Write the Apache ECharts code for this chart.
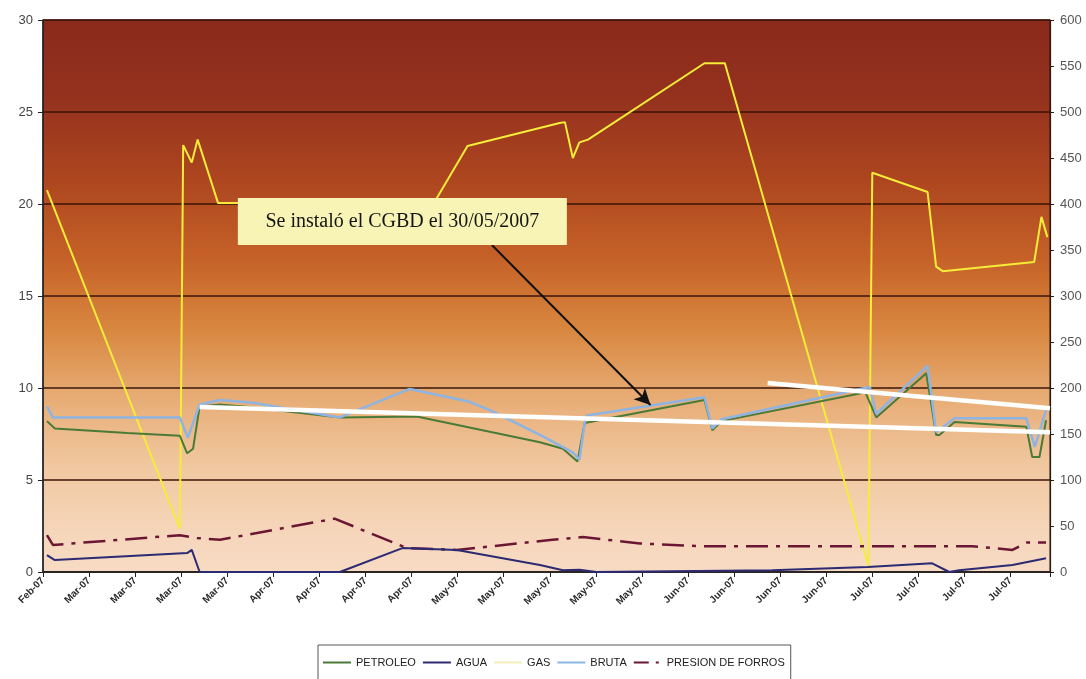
<!DOCTYPE html>
<html>
<head>
<meta charset="utf-8">
<title>Producción del pozo</title>
<script src="https://cdn.jsdelivr.net/npm/echarts@6/dist/echarts.min.js"></script>
<style>
  html, body { margin: 0; padding: 0; background: #ffffff; }
  #chart { width: 1086px; height: 679px; }
</style>
</head>
<body>
<div id="chart"></div>
<script>
// x values are days counted from 28-Feb-2007; one tick per week
const tickLabels = ['Feb-07', 'Mar-07', 'Mar-07', 'Mar-07', 'Mar-07', 'Apr-07', 'Apr-07', 'Apr-07', 'Apr-07',
  'May-07', 'May-07', 'May-07', 'May-07', 'May-07', 'Jun-07', 'Jun-07', 'Jun-07', 'Jun-07',
  'Jul-07', 'Jul-07', 'Jul-07', 'Jul-07'];
const dayMax = 153;   // 31-Jul-2007

// left axis (0-30)
const petroleo = [[0.6, 8.2], [1.8, 7.8], [12.8, 7.55], [20.8, 7.4], [21.9, 6.45], [22.8, 6.7], [23.8, 9.0],
  [26.9, 9.1], [31.6, 8.95], [45.1, 8.4], [56.8, 8.45], [75.5, 7.05], [79.0, 6.7], [81.2, 6.0], [82.3, 8.1],
  [100.5, 9.35], [101.7, 7.7], [103.1, 8.2], [124.1, 9.7], [124.9, 9.8], [126.6, 8.4], [134.2, 10.8],
  [135.7, 7.45], [136.2, 7.45], [138.5, 8.15], [149.4, 7.9], [150.3, 6.25], [151.4, 6.25], [152.4, 8.25]];

const bruta = [[0.6, 9.0], [1.5, 8.4], [20.8, 8.4], [22.0, 7.3], [23.8, 9.1], [26.9, 9.35], [31.9, 9.2],
  [45.1, 8.4], [55.7, 9.95], [64.8, 9.25], [67.9, 8.8], [75.5, 7.45], [80.5, 6.5], [81.5, 6.1], [82.3, 8.1],
  [82.6, 8.5], [100.5, 9.5], [101.7, 7.8], [103.1, 8.3], [125.6, 10.05], [126.6, 8.6], [134.4, 11.2],
  [135.7, 7.6], [138.5, 8.35], [149.4, 8.35], [150.7, 6.8], [152.4, 8.8]];

const agua = [[0.6, 0.92], [1.8, 0.65], [21.9, 1.03], [22.6, 1.2], [23.8, 0], [45.1, 0], [54.6, 1.3],
  [62.9, 1.2], [75.5, 0.38], [79.0, 0.1], [81.5, 0.12], [84.1, 0], [110.8, 0.1], [125.3, 0.27],
  [135.1, 0.47], [137.7, 0], [139.2, 0.1], [147.3, 0.38], [152.4, 0.75]];

const presion = [[0.6, 2.0], [1.5, 1.47], [20.8, 2.0], [23.4, 1.85], [26.9, 1.75], [44.3, 2.9], [55.3, 1.3],
  [62.9, 1.2], [77.4, 1.75], [82.0, 1.9], [90.7, 1.55], [100.0, 1.4], [141.2, 1.4], [147.3, 1.2],
  [149.5, 1.6], [152.4, 1.6]];

// right axis (0-600)
const gas = [[0.6, 415], [20.8, 47], [21.3, 464], [22.6, 445], [23.5, 470], [26.6, 401], [59.4, 401],
  [64.5, 463], [78.5, 488], [79.3, 489], [80.5, 450], [81.5, 467], [82.8, 470], [100.5, 553], [103.6, 553],
  [125.4, 7], [126.0, 434], [134.4, 413], [135.7, 332], [136.7, 327], [150.6, 337], [151.7, 386], [152.6, 364]];

// hand-drawn trend lines (left axis)
const trendA = [[23.8, 8.97], [153, 7.6]];
const trendB = [[110.1, 10.27], [153, 8.9]];

// note box and arrow (left axis coordinates)
const noteText = 'Se instaló el CGBD el 30/05/2007';
const noteAt = [54.6, 19.05];
const arrowFrom = [68.2, 17.77];
const arrowTo = [92.3, 9.08];

const chart = echarts.init(document.getElementById('chart'), null, { renderer: 'canvas' });

const plotBg = new echarts.graphic.LinearGradient(0, 0, 0, 1, [
  { offset: 0, color: '#8a2a1c' },
  { offset: 0.145, color: '#95321e' },
  { offset: 0.29, color: '#ad461f' },
  { offset: 0.435, color: '#c66228' },
  { offset: 0.56, color: '#d8873f' },
  { offset: 0.69, color: '#e8ae78' },
  { offset: 0.815, color: '#f1c9a2' },
  { offset: 0.94, color: '#f6d7bd' },
  { offset: 1, color: '#f8dbc4' }
]);

const lineBase = { type: 'line', symbol: 'none', showSymbol: false, animation: false, emphasis: { disabled: true } };

chart.setOption({
  animation: false,
  backgroundColor: '#ffffff',
  textStyle: { fontFamily: 'Liberation Sans, Arial, sans-serif' },
  grid: {
    left: 43, right: 36, top: 20, bottom: 107,
    show: true,
    backgroundColor: plotBg,
    borderColor: '#2a1a12',
    borderWidth: 1
  },
  legend: {
    left: 318, top: 645,
    padding: [12, 6, 30, 4],
    borderColor: '#555555',
    borderWidth: 1,
    itemWidth: 28, itemHeight: 10, itemGap: 6,
    itemStyle: { opacity: 0 },
    textStyle: { fontSize: 11, color: '#222222', fontFamily: 'Liberation Sans, Arial, sans-serif' },
    data: [
      { name: 'PETROLEO' },
      { name: 'AGUA' },
      { name: 'GAS', lineStyle: { color: '#f3efbc' } },
      { name: 'BRUTA' },
      { name: 'PRESION DE FORROS', lineStyle: { type: [15, 7, 3, 6] } }
    ]
  },
  xAxis: {
    type: 'value',
    min: 0, max: dayMax, interval: 7,
    axisLine: { show: true, lineStyle: { color: '#222222', width: 1.5 } },
    axisTick: { show: true, length: 5, lineStyle: { color: '#222222' } },
    splitLine: { show: false },
    axisLabel: {
      rotate: 45, fontSize: 10, fontWeight: 'bold', color: '#2a2a2a', margin: 7,
      formatter: function (v) { return v % 7 === 0 ? (tickLabels[v / 7] || '') : ''; }
    }
  },
  yAxis: [
    {
      type: 'value', min: 0, max: 30, interval: 5, position: 'left',
      axisLine: { show: true, lineStyle: { color: '#222222', width: 1.5 } },
      axisTick: { show: true, length: 5, lineStyle: { color: '#222222' } },
      splitLine: { show: true, lineStyle: { color: '#3b1408', width: 1.5 } },
      axisLabel: { fontSize: 13, color: '#444444', margin: 10 }
    },
    {
      type: 'value', min: 0, max: 600, interval: 50, position: 'right',
      axisLine: { show: true, lineStyle: { color: '#2a1a12', width: 1.2 } },
      axisTick: { show: true, length: 4, lineStyle: { color: '#2a1a12' } },
      splitLine: { show: false },
      axisLabel: { fontSize: 13, color: '#555555', margin: 10 }
    }
  ],
  series: [
    Object.assign({}, lineBase, {
      name: 'GAS', yAxisIndex: 1, data: gas, z: 2,
      lineStyle: { color: '#f6ec3a', width: 2 }
    }),
    Object.assign({}, lineBase, {
      name: 'PRESION DE FORROS', yAxisIndex: 0, data: presion, z: 3,
      lineStyle: { color: '#6b1733', width: 2.5, type: [22, 8, 4, 8] }
    }),
    Object.assign({}, lineBase, {
      name: 'AGUA', yAxisIndex: 0, data: agua, z: 3,
      lineStyle: { color: '#2c2a72', width: 2 }
    }),
    Object.assign({}, lineBase, {
      name: 'PETROLEO', yAxisIndex: 0, data: petroleo, z: 3,
      lineStyle: { color: '#4a7a38', width: 2 }
    }),
    Object.assign({}, lineBase, {
      name: 'BRUTA', yAxisIndex: 0, data: bruta, z: 3,
      lineStyle: { color: '#8db4e2', width: 2.5 }
    }),
    Object.assign({}, lineBase, {
      name: 'trendA', yAxisIndex: 0, data: trendA, z: 5,
      lineStyle: { color: '#ffffff', width: 4.5 }
    }),
    Object.assign({}, lineBase, {
      name: 'trendB', yAxisIndex: 0, data: trendB, z: 5,
      lineStyle: { color: '#ffffff', width: 4.5 },
      markPoint: {
        silent: true,
        animation: false,
        data: [{
          coord: noteAt,
          symbol: 'rect',
          symbolSize: [329, 47],
          itemStyle: { color: '#f7f4b6' },
          label: {
            show: true, position: 'inside', formatter: noteText,
            color: '#151515', fontSize: 20, fontFamily: 'Liberation Serif, Times New Roman, serif'
          }
        }]
      },
      markLine: {
        silent: true,
        animation: false,
        symbol: ['none', 'arrow'],
        symbolSize: [12, 16],
        label: { show: false },
        lineStyle: { color: '#111111', width: 2, type: 'solid' },
        data: [[{ coord: arrowFrom }, { coord: arrowTo }]]
      }
    })
  ]
});
</script>
</body>
</html>
